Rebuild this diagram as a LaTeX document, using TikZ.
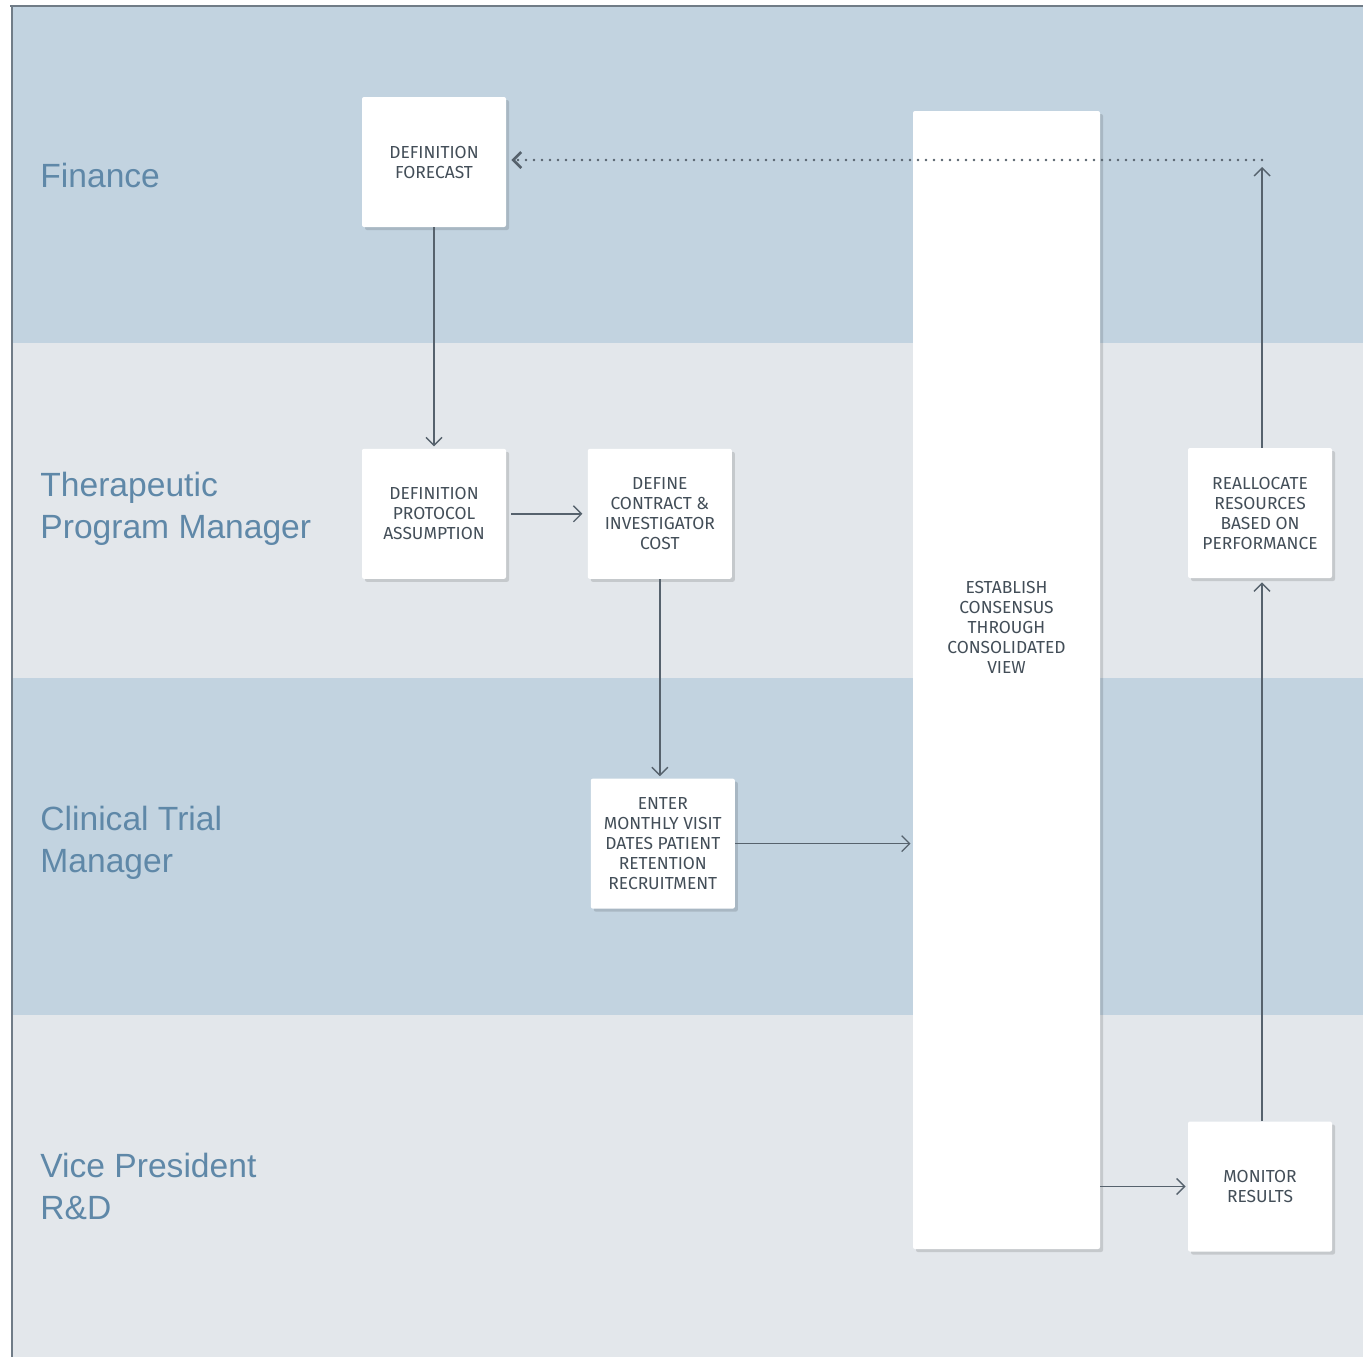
\documentclass[tikz,border=0pt]{standalone}
\usepackage{fontspec}
\setmainfont{Fira Sans}
\newfontfamily\lanefont{Liberation Sans}
\usetikzlibrary{arrows.meta,positioning,shadows}
\definecolor{lblue}{HTML}{C2D3E0}
\definecolor{lgray}{HTML}{E3E7EB}
\definecolor{ltext}{HTML}{5F88A8}
\definecolor{btext}{HTML}{434E58}
\definecolor{aline}{HTML}{56626D}
\definecolor{frame}{HTML}{707C87}
\begin{document}
\begin{tikzpicture}[x=0.5pt,y=-0.5pt,node distance=2mm,every node/.style={align=center},lane/.style={fill=#1,draw=none},lab/.style={anchor=west,align=left,inner sep=0pt,text=ltext,font=\lanefont\fontsize{16.8}{21}\selectfont},box/.style={fill=white,rounded corners=1pt,minimum width=72pt,minimum height=65pt,inner sep=1pt,text=btext,font=\fontsize{8.7}{10}\selectfont,drop shadow={shadow xshift=1.5pt,shadow yshift=-1.5pt,fill=black,opacity=.13}},txt/.style={inner sep=0pt,text=btext,font=\fontsize{8.7}{10}\selectfont},arr/.style={-{Straight Barb[length=4pt,width=8pt]},aline,line width=.7pt},dots/.style={line width=1.3pt,line cap=round,dash pattern=on 0pt off 4pt}]
\useasboundingbox (0,0) rectangle (1363,1357);
% lanes
\fill[lane=lblue] (12,7) rectangle (1363,343);
\fill[lane=lgray] (12,343) rectangle (1363,678);
\fill[lane=lblue] (12,678) rectangle (1363,1015);
\fill[lane=lgray] (12,1015) rectangle (1363,1357);
\draw[frame,line width=.8pt] (10,6) -- (1363,6); \draw[frame,line width=.8pt] (12,6) -- (12,1357);
% lane labels
\node[lab] (lfin) at (40,175) {Finance};
\node[lab] (ltpm) at (40,509) {Therapeutic\\Program Manager};
\node[lab] (lctm) at (40,843) {Clinical Trial\\Manager};
\node[lab] (lvp) at (40,1186) {Vice President\\R\&D};
% steps
\node[box] (fc) at (434,162) {DEFINITION\\FORECAST};
\node[box,below=110.5pt of fc] (pa) {DEFINITION\\PROTOCOL\\ASSUMPTION};
\node[box,right=40.5pt of pa] (cc) {DEFINE\\CONTRACT \&\\INVESTIGATOR\\COST};
\node[box,below=99.5pt of cc,xshift=1.5pt] (em) {ENTER\\MONTHLY VISIT\\DATES PATIENT\\RETENTION\\RECRUITMENT};
\node[box,minimum width=93.5pt,minimum height=569pt] (ec) at (1006.5,680) {};
\node[txt] (ect) at (1006.5,627) {ESTABLISH\\CONSENSUS\\THROUGH\\CONSOLIDATED\\VIEW};
\node[box] (rr) at (1260,513) {REALLOCATE\\RESOURCES\\BASED ON\\PERFORMANCE};
\node[box] (mr) at (1260,1186.5) {MONITOR\\RESULTS};
\coordinate (top) at (1262,160);
% flow
\draw[arr,shorten >=1pt] (fc) -- (pa);
\draw[arr,shorten <=2.5pt,shorten >=2.5pt] (pa) -- (cc);
\draw[arr,shorten >=1pt] (cc.south) -- (cc.south |- em.north);
\draw[arr,shorten >=1pt] (em) -- (em -| ec.west);
\draw[arr,shorten >=1pt] (mr.west -| ec.east) -- (mr.west);
\draw[arr,shorten >=2pt] (mr.north -| top) -- (rr.south -| top);
\draw[arr,shorten >=3.5pt] (rr.north -| top) -- (top);
\draw[arr,dots,shorten >=2.5pt] (top) -- (fc.east |- top);
\end{tikzpicture}
\end{document}
